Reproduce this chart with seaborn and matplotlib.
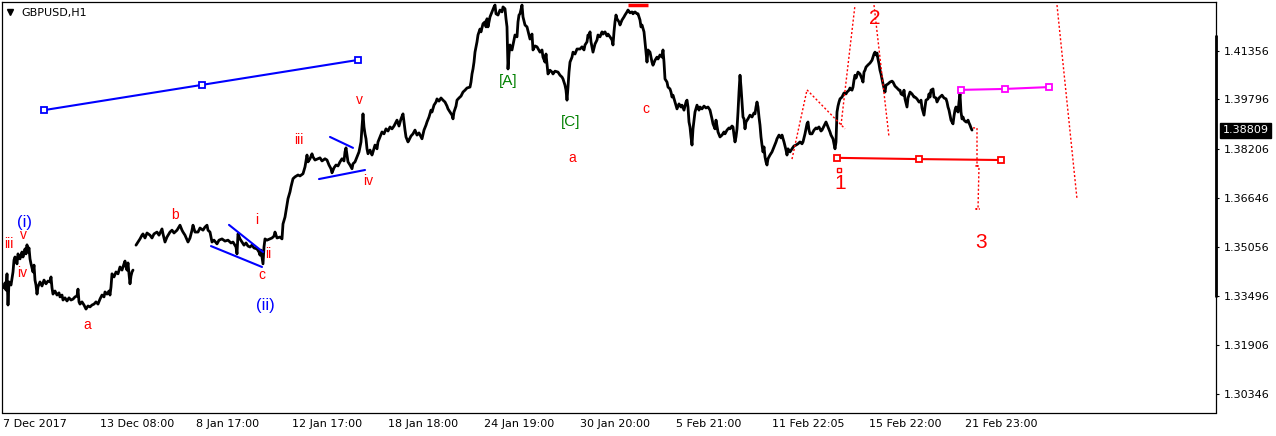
import matplotlib
matplotlib.use('Agg')
import matplotlib.pyplot as plt
import matplotlib.transforms as mtransforms
import seaborn as sns
import pandas as pd

sns.set_style('white')
plt.rcParams['font.family'] = ['DejaVu Sans']

# hourly closes, block before the holiday gap
bars_a = [4, 5, 6, 7, 8, 9, 11, 13, 14, 15, 17, 18, 20, 22, 23, 25, 26, 27, 28, 29, 30, 31, 33, 34, 35, 36, 37, 38,
          40, 42, 44, 46, 48, 50, 51, 52, 53, 55, 57, 59, 60, 62, 63, 65, 67, 69, 71, 73, 75, 77, 78, 79, 80, 82,
          84, 86, 88, 90, 92, 94, 96, 98, 100, 102, 104, 105, 107, 109, 110, 111, 112, 114, 116, 118, 120, 122,
          124, 125, 126, 127, 128, 129, 130, 131, 132, 133]
close_a = [1.3375, 1.3391, 1.3368, 1.3420, 1.3320, 1.3394, 1.3384, 1.3426, 1.3464, 1.3474, 1.3452, 1.3484, 1.3468,
           1.3490, 1.3474, 1.3500, 1.3484, 1.3513, 1.3490, 1.3503, 1.3468, 1.3452, 1.3426, 1.3448, 1.3400, 1.3384,
           1.3355, 1.3378, 1.3394, 1.3381, 1.3400, 1.3388, 1.3397, 1.3394, 1.3410, 1.3375, 1.3355, 1.3365, 1.3352,
           1.3359, 1.3346, 1.3352, 1.3336, 1.3343, 1.3333, 1.3343, 1.3336, 1.3339, 1.3346, 1.3349, 1.3371, 1.3330,
           1.3323, 1.3330, 1.3320, 1.3307, 1.3317, 1.3314, 1.3320, 1.3323, 1.3330, 1.3323, 1.3339, 1.3352, 1.3346,
           1.3362, 1.3355, 1.3365, 1.3352, 1.3378, 1.3420, 1.3410, 1.3426, 1.3420, 1.3442, 1.3432, 1.3452, 1.3461,
           1.3442, 1.3432, 1.3455, 1.3420, 1.3388, 1.3413, 1.3426, 1.3432]

# hourly closes, block after the gap
bars_b = [136, 138, 140, 142, 143, 145, 147, 150, 152, 154, 157, 159, 162, 163, 165, 167, 170, 172, 174, 177, 180,
          182, 183, 185, 188, 190, 192, 193, 195, 198, 200, 203, 205, 207, 208, 210, 212, 214, 217, 219, 222, 225,
          228, 231, 233, 236, 237, 238, 240, 242, 244, 246, 248, 250, 252, 254, 257, 259, 260, 261, 262, 263, 264,
          265, 267, 270, 272, 274, 275, 277, 280, 282, 283, 285, 287, 288, 290, 291, 293, 295, 298, 300, 303, 305,
          307, 308, 310, 312, 313, 315, 318, 320, 322, 325, 327, 329, 331, 332, 334, 336, 338, 340, 342, 344, 345,
          346, 347, 348, 350, 352, 353, 355, 357, 359, 361, 362, 363, 364, 365, 366, 367, 368, 370, 372, 373, 375,
          377, 378, 380, 382, 384, 386, 388, 390, 392, 394, 396, 397, 399, 401, 403, 404, 405, 406, 408, 409, 411,
          413, 415, 417, 419, 422, 424, 426, 427, 429, 431, 432, 434, 436, 437, 439, 441, 443, 445, 447, 448, 450,
          452, 453, 454, 456, 457, 459, 461, 463, 465, 467, 470, 471, 472, 473, 474, 475, 477, 478, 480, 481, 483,
          485, 486, 487, 488, 490, 492, 494, 495, 496, 498, 500, 502, 503, 505, 506, 507, 508, 509, 510, 512, 514,
          515, 517, 518, 519, 520, 522, 523, 525, 527, 529, 530, 532, 533, 535, 537, 540, 542, 543, 545, 546, 548,
          550, 552, 553, 555, 558, 560, 562, 563, 565, 566, 567, 568, 569, 570, 572, 573, 575, 577, 580, 582, 584,
          585, 587, 588, 589, 590, 591, 592, 593, 595, 597, 598, 600, 602, 603, 605, 607, 608, 610, 612, 613, 614,
          615, 616, 617, 619, 620, 622, 624, 625, 627, 628, 630, 632, 633, 635, 637, 638, 640, 641, 642, 644, 645,
          646, 647, 648, 650, 651, 652, 653, 655, 657, 658, 660, 662, 663, 664, 665, 667, 668, 670, 671, 672, 673,
          675, 677, 679, 681, 682, 684, 686, 687, 688, 689, 690, 691, 692, 693, 695, 697, 699, 700, 702, 704, 706,
          708, 710, 712, 713, 715, 716, 718, 720, 722, 724, 725, 727, 729, 730, 732, 733, 734, 735, 736, 737, 738,
          739, 740, 741, 742, 743, 744, 745, 746, 748, 750, 752, 754, 755, 756, 757, 758, 759, 760, 761, 762, 763,
          764, 765, 766, 767, 768, 770, 772, 774, 776, 777, 779, 781, 782, 784, 786, 787, 788, 790, 792, 794, 796,
          798, 800, 802, 803, 805, 807, 808, 809, 810, 812, 814, 816, 817, 819, 821, 822, 824, 826, 828, 830, 831,
          833, 834, 835, 836, 837, 838, 839, 840, 842, 844, 846, 847, 849, 850, 852, 853, 854, 855, 856, 858, 860,
          862, 863, 864, 865, 866, 868, 870, 872, 873, 874, 875, 876, 877, 878, 879, 880, 881, 882, 883, 884, 885,
          886, 888, 890, 892, 893, 895, 897, 899, 900, 901, 903, 904, 905, 907, 908, 910, 912, 914, 915, 917, 919,
          920, 921, 922, 924, 925, 926, 928, 929, 930, 931, 933, 934, 936, 937, 939, 941, 942, 944, 946, 947, 948,
          949, 950, 951, 952, 953, 954, 955, 956, 957, 958, 959, 960, 961, 962, 963, 964, 966, 967, 968, 969, 970,
          971, 972]
close_b = [1.3512, 1.3522, 1.3532, 1.3544, 1.3548, 1.3535, 1.3551, 1.3544, 1.3535, 1.3548, 1.3554, 1.3544, 1.3564,
           1.3548, 1.3522, 1.3538, 1.3554, 1.3560, 1.3551, 1.3560, 1.3576, 1.3560, 1.3554, 1.3544, 1.3522, 1.3535,
           1.3560, 1.3576, 1.3554, 1.3554, 1.3567, 1.3560, 1.3570, 1.3576, 1.3560, 1.3554, 1.3522, 1.3528, 1.3516,
           1.3528, 1.3532, 1.3525, 1.3528, 1.3519, 1.3522, 1.3506, 1.3484, 1.3548, 1.3532, 1.3522, 1.3512, 1.3519,
           1.3509, 1.3506, 1.3512, 1.3503, 1.3500, 1.3490, 1.3480, 1.3496, 1.3474, 1.3452, 1.3506, 1.3532, 1.3528,
           1.3532, 1.3535, 1.3541, 1.3554, 1.3535, 1.3538, 1.3532, 1.3580, 1.3602, 1.3640, 1.3661, 1.3683, 1.3699,
           1.3725, 1.3731, 1.3737, 1.3734, 1.3741, 1.3763, 1.3801, 1.3779, 1.3789, 1.3805, 1.3795, 1.3785, 1.3789,
           1.3792, 1.3782, 1.3789, 1.3785, 1.3769, 1.3757, 1.3744, 1.3760, 1.3769, 1.3766, 1.3779, 1.3789, 1.3782,
           1.3811, 1.3824, 1.3801, 1.3779, 1.3769, 1.3757, 1.3773, 1.3779, 1.3795, 1.3811, 1.3843, 1.3891, 1.3933,
           1.3891, 1.3869, 1.3853, 1.3821, 1.3805, 1.3817, 1.3801, 1.3811, 1.3833, 1.3821, 1.3843, 1.3859, 1.3875,
           1.3869, 1.3885, 1.3878, 1.3891, 1.3885, 1.3894, 1.3907, 1.3913, 1.3894, 1.3917, 1.3933, 1.3907, 1.3881,
           1.3859, 1.3843, 1.3849, 1.3862, 1.3869, 1.3881, 1.3865, 1.3872, 1.3853, 1.3881, 1.3897, 1.3907, 1.3923,
           1.3945, 1.3939, 1.3961, 1.3971, 1.3981, 1.3974, 1.3984, 1.3977, 1.3971, 1.3958, 1.3949, 1.3939, 1.3929,
           1.3917, 1.3939, 1.3958, 1.3977, 1.3984, 1.3990, 1.4003, 1.4009, 1.4016, 1.4019, 1.4035, 1.4061, 1.4077,
           1.4099, 1.4131, 1.4164, 1.4186, 1.4205, 1.4196, 1.4222, 1.4228, 1.4212, 1.4238, 1.4212, 1.4244, 1.4260,
           1.4276, 1.4282, 1.4254, 1.4250, 1.4266, 1.4260, 1.4276, 1.4270, 1.4238, 1.4212, 1.4077, 1.4125, 1.4154,
           1.4138, 1.4170, 1.4186, 1.4180, 1.4228, 1.4250, 1.4254, 1.4282, 1.4244, 1.4218, 1.4212, 1.4186, 1.4173,
           1.4189, 1.4138, 1.4151, 1.4148, 1.4131, 1.4138, 1.4115, 1.4099, 1.4125, 1.4061, 1.4073, 1.4067, 1.4061,
           1.4070, 1.4067, 1.4057, 1.4051, 1.4045, 1.4025, 1.4009, 1.3977, 1.4019, 1.4067, 1.4099, 1.4115, 1.4131,
           1.4125, 1.4141, 1.4141, 1.4148, 1.4138, 1.4154, 1.4164, 1.4186, 1.4180, 1.4196, 1.4164, 1.4148, 1.4131,
           1.4157, 1.4170, 1.4186, 1.4180, 1.4196, 1.4189, 1.4196, 1.4183, 1.4189, 1.4180, 1.4170, 1.4154, 1.4196,
           1.4228, 1.4250, 1.4238, 1.4228, 1.4218, 1.4234, 1.4244, 1.4250, 1.4260, 1.4266, 1.4257, 1.4260, 1.4254,
           1.4260, 1.4254, 1.4254, 1.4234, 1.4212, 1.4218, 1.4196, 1.4164, 1.4131, 1.4099, 1.4138, 1.4131, 1.4115,
           1.4099, 1.4089, 1.4105, 1.4115, 1.4109, 1.4122, 1.4115, 1.4138, 1.4099, 1.4045, 1.4035, 1.4019, 1.4013,
           1.4003, 1.3987, 1.3993, 1.3971, 1.3949, 1.3965, 1.3955, 1.3961, 1.3945, 1.3971, 1.3977, 1.3955, 1.3907,
           1.3891, 1.3859, 1.3833, 1.3885, 1.3939, 1.3961, 1.3945, 1.3955, 1.3949, 1.3958, 1.3952, 1.3955, 1.3945,
           1.3917, 1.3901, 1.3885, 1.3913, 1.3875, 1.3859, 1.3865, 1.3875, 1.3869, 1.3881, 1.3888, 1.3885, 1.3894,
           1.3891, 1.3865, 1.3843, 1.3859, 1.3885, 1.3939, 1.4003, 1.4057, 1.4019, 1.3971, 1.3923, 1.3917, 1.3885,
           1.3907, 1.3917, 1.3929, 1.3923, 1.3936, 1.3933, 1.3955, 1.3971, 1.3955, 1.3923, 1.3897, 1.3859, 1.3833,
           1.3811, 1.3827, 1.3795, 1.3779, 1.3769, 1.3789, 1.3801, 1.3811, 1.3827, 1.3843, 1.3853, 1.3865, 1.3856,
           1.3865, 1.3843, 1.3817, 1.3801, 1.3821, 1.3811, 1.3821, 1.3830, 1.3833, 1.3837, 1.3843, 1.3837, 1.3843,
           1.3869, 1.3901, 1.3907, 1.3881, 1.3869, 1.3869, 1.3881, 1.3888, 1.3885, 1.3891, 1.3878, 1.3881, 1.3894,
           1.3907, 1.3891, 1.3875, 1.3865, 1.3853, 1.3837, 1.3821, 1.3843, 1.3939, 1.3958, 1.3971, 1.3981, 1.3987,
           1.4000, 1.3997, 1.4003, 1.4009, 1.4016, 1.4009, 1.4019, 1.4041, 1.4057, 1.4048, 1.4067, 1.4061, 1.4045,
           1.4035, 1.4067, 1.4073, 1.4083, 1.4090, 1.4096, 1.4105, 1.4115, 1.4125, 1.4131, 1.4122, 1.4128, 1.4109,
           1.4093, 1.4073, 1.4061, 1.4045, 1.4029, 1.4016, 1.4003, 1.4025, 1.4029, 1.4035, 1.4038, 1.4035, 1.4022,
           1.4016, 1.4009, 1.4009, 1.3997, 1.3993, 1.4009, 1.3981, 1.3955, 1.3984, 1.4003, 1.3997, 1.3987, 1.3987,
           1.3981, 1.3971, 1.3971, 1.3977, 1.3952, 1.3929, 1.3955, 1.3977, 1.3981, 1.3997, 1.3987, 1.4009, 1.4013,
           1.3987, 1.3984, 1.3971, 1.3984, 1.3990, 1.3993, 1.3984, 1.3981, 1.3971, 1.3955, 1.3945, 1.3929, 1.3913,
           1.3907, 1.3901, 1.3926, 1.3945, 1.3955, 1.3945, 1.3939, 1.3971, 1.3997, 1.3939, 1.3917, 1.3923, 1.3913,
           1.3907, 1.3907, 1.3913, 1.3904, 1.3897, 1.3888, 1.3881]

price_ticks = [1.41356, 1.39796, 1.38206, 1.36646, 1.35056, 1.33496, 1.31906, 1.30346]
date_pos = [3, 99.5, 196, 292, 388, 484, 580, 676, 772, 869, 965]
date_labels = ['7 Dec 2017', '13 Dec 08:00', '8 Jan 17:00', '12 Jan 17:00', '18 Jan 18:00', '24 Jan 19:00',
               '30 Jan 20:00', '5 Feb 21:00', '11 Feb 22:05', '15 Feb 22:00', '21 Feb 23:00']
last_price = 1.38809

# drawn objects (bar index, price)
channel_x, channel_y = [44, 202, 358], [1.3945, 1.4026, 1.4106]
red_lvl_x, red_lvl_y = [837, 919, 1001], [1.3792, 1.3788, 1.3785]
mag_lvl_x, mag_lvl_y = [961, 1005, 1049], [1.4010, 1.4013, 1.4019]
wedges = [([211, 262], [1.3509, 1.3442]), ([229, 263], [1.3577, 1.3490]),
          ([330, 353], [1.3859, 1.3824]), ([319, 365], [1.3724, 1.3753])]
dotted = [([792, 807, 845], [1.3788, 1.4010, 1.3885]),
          ([841, 855], [1.3897, 1.4282]),
          ([874, 889], [1.4282, 1.3859]),
          ([973, 977, 977, 975, 979, 978, 976, 980], [1.3888, 1.3888, 1.3766, 1.3766, 1.3766, 1.3628, 1.3628, 1.3628]),
          ([1057, 1077], [1.4282, 1.3660])]

# wave labels: text, bar, price, colour, size
waves = [('(i)', 25, 1.3586, '#0000ff', 12), ('v', 23, 1.3545, '#ff0000', 10), ('iii', 9, 1.3516, '#ff0000', 10),
         ('iv', 22, 1.3423, '#ff0000', 10), ('a', 87, 1.3256, '#ff0000', 10), ('b', 175, 1.3609, '#ff0000', 10),
         ('i', 257, 1.3593, '#ff0000', 10), ('ii', 268, 1.3484, '#ff0000', 10), ('c', 262, 1.3416, '#ff0000', 10),
         ('(ii)', 265, 1.3320, '#0000ff', 12), ('iii', 299, 1.3849, '#ff0000', 10), ('v', 359, 1.3978, '#ff0000', 10),
         ('iv', 368, 1.3718, '#ff0000', 10), ('[A]', 508, 1.4038, '#008000', 11), ('[C]', 571, 1.3907, '#008000', 11),
         ('a', 572, 1.3792, '#ff0000', 10), ('c', 646, 1.3949, '#ff0000', 10), ('1', 840, 1.3711, '#ff0000', 15),
         ('2', 875, 1.4240, '#ff0000', 15), ('3', 981, 1.3519, '#ff0000', 15)]

W, H = 1276, 436
fig = plt.figure(figsize=(W / 100, H / 100), dpi=100)
ax = fig.add_axes([2.5 / W, 23.5 / H, 1213.5 / W, 410.5 / H])

sns.lineplot(x=bars_a, y=close_a, ax=ax, color='black', lw=2.0, estimator=None, sort=False)
sns.lineplot(x=bars_b, y=close_b, ax=ax, color='black', lw=2.0, estimator=None, sort=False)

sq = dict(marker='s', ms=4, mfc='white', mew=1.3)
ax.plot(channel_x, channel_y, color='#0000ff', lw=1.5, mec='#0000ff', **sq)
ax.plot(red_lvl_x, red_lvl_y, color='#ff0000', lw=1.5, mec='#ff0000', **sq)
ax.plot(mag_lvl_x, mag_lvl_y, color='#ff00ff', lw=1.5, mec='#ff00ff', **sq)
for xs, ys in wedges:
    ax.plot(xs, ys, color='#0000ff', lw=1.5)
for xs, ys in dotted:
    ax.plot(xs, ys, color='#ff0000', lw=1, ls=(0, (1.5, 1.5)))
ax.plot([628, 648], [1.4283, 1.4283], color='#ff0000', lw=2.5, solid_capstyle='butt')
ax.plot([839], [1.3753], marker='s', ms=2.5, mfc='white', mec='#ff0000', mew=1)

for txt, bx, pr, col, fs in waves:
    ax.text(bx, pr, txt, color=col, fontsize=fs, ha='center', va='center',
            family=['Liberation Sans', 'DejaVu Sans'])

ax.set_xlim(2.5, 1216)
ax.set_ylim(1.29753, 1.42918)

ax.yaxis.tick_right()
ax.set_yticks(price_ticks)
ax.set_yticklabels([f'{p:.5f}' for p in price_ticks])
ax.set_xticks(date_pos)
ax.set_xticklabels(date_labels, ha='left')
ax.tick_params(axis='y', direction='out', length=2.5, width=0.8, pad=3, labelsize=8, colors='black')
ax.tick_params(axis='x', direction='out', length=3.5, width=0.8, pad=1.5, labelsize=8, colors='black')
ax.set_xlabel('')
ax.set_ylabel('')
for s in ax.spines.values():
    s.set_visible(True)
    s.set_color('black')
    s.set_linewidth(0.9)

trans = mtransforms.blended_transform_factory(ax.transAxes, ax.transData)
ax.plot([1.0, 1.0], [1.4186, 1.3346], transform=trans, color='black', lw=2, clip_on=False,
        solid_capstyle='butt')
ax.text(1.0 + 6.5 / 1213.5, last_price, f'{last_price:.5f}', transform=trans, color='white', fontsize=8,
        ha='left', va='center', bbox=dict(boxstyle='square,pad=0.22', fc='black', ec='black'))

ax.plot([7.5 / 1213.5], [1 - 10 / 410.5], transform=ax.transAxes, marker='v', ms=5, color='black',
        clip_on=False)
ax.text(18.5 / 1213.5, 1 - 11 / 410.5, 'GBPUSD,H1', transform=ax.transAxes, fontsize=8, ha='left',
        va='center', color='black')

fig.savefig('out.png', dpi=100, facecolor='white')
